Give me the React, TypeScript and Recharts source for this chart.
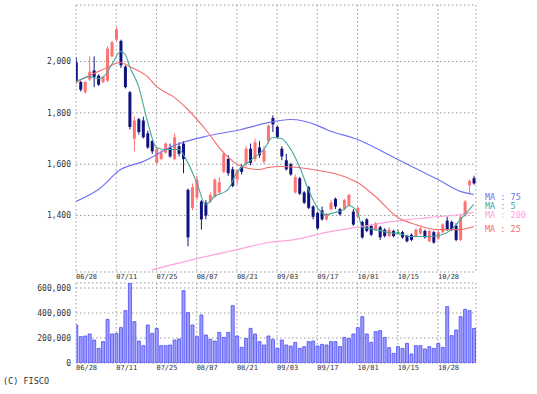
import { Bar, CartesianGrid, ComposedChart, Line, XAxis, YAxis } from 'recharts';

const DATES = ['06/28', '07/11', '07/25', '08/07', '08/21', '09/03', '09/17', '10/01', '10/15', '10/28'];
const DATE_IDX = [0, 9, 18, 27, 36, 45, 54, 63, 72, 81];

const OPEN = [
  1996, 1920, 1880, 1930, 1965, 1945, 1920, 1925, 2020, 2085,
  2080, 1980, 1880, 1700, 1775, 1770, 1720, 1690, 1605, 1620,
  1645, 1665, 1620, 1670, 1680, 1500, 1430, 1470, 1455, 1450,
  1455, 1475, 1490, 1570, 1620, 1580, 1540, 1590, 1600, 1660,
  1620, 1665, 1610, 1690, 1780, 1745, 1660, 1615, 1600, 1490,
  1545, 1490, 1510, 1435, 1410, 1420, 1385, 1425, 1465, 1425,
  1425, 1440, 1415, 1395, 1375, 1385, 1360, 1345, 1355, 1345,
  1320, 1340, 1335, 1335, 1320, 1325, 1320, 1330, 1340, 1300,
  1335, 1310, 1335, 1380, 1375, 1360, 1305, 1400, 1518, 1545,
];
const HIGH = [
  2015, 1925, 1925, 2020, 2020, 1950, 1945, 2060, 2080, 2135,
  2085, 1985, 1885, 1786, 1780, 1785, 1730, 1695, 1665, 1655,
  1685, 1680, 1720, 1685, 1690, 1505, 1525, 1555, 1460, 1460,
  1490, 1545, 1550, 1650, 1635, 1590, 1580, 1600, 1670, 1680,
  1700, 1690, 1670, 1755, 1790, 1750, 1670, 1640, 1605, 1560,
  1550, 1495, 1515, 1440, 1415, 1435, 1410, 1460, 1470, 1430,
  1465, 1485, 1425, 1435, 1380, 1390, 1365, 1375, 1360, 1350,
  1355, 1345, 1345, 1340, 1325, 1330, 1350, 1355, 1345, 1345,
  1340, 1340, 1370, 1395, 1380, 1370, 1400, 1460, 1540, 1555,
];
const LOW = [
  1914, 1883, 1875, 1925, 1900, 1905, 1915, 1920, 2015, 2080,
  1975, 1895, 1735, 1650, 1715, 1700, 1660, 1640, 1600, 1615,
  1640, 1625, 1615, 1630, 1565, 1280, 1420, 1460, 1345, 1385,
  1450, 1470, 1485, 1565, 1555, 1510, 1520, 1560, 1590, 1595,
  1610, 1625, 1600, 1680, 1725, 1700, 1615, 1575, 1555, 1485,
  1480, 1445, 1425, 1385, 1345, 1380, 1380, 1420, 1425, 1400,
  1420, 1435, 1360, 1390, 1310, 1335, 1320, 1340, 1305, 1315,
  1315, 1315, 1328, 1310, 1295, 1300, 1315, 1325, 1310, 1295,
  1290, 1305, 1330, 1340, 1340, 1300, 1300, 1395, 1482, 1520,
];
const CLOSE = [
  1922, 1890, 1920, 1960, 1940, 1910, 1940, 2050, 2075, 2125,
  1985, 1900, 1745, 1770, 1725, 1705, 1665, 1650, 1660, 1645,
  1680, 1630, 1705, 1640, 1620, 1315, 1510, 1540, 1385, 1400,
  1480, 1540, 1530, 1640, 1565, 1515, 1575, 1570, 1660, 1605,
  1685, 1635, 1655, 1750, 1755, 1705, 1630, 1580, 1560, 1550,
  1485, 1450, 1430, 1395, 1350, 1385, 1405, 1450, 1435, 1405,
  1460, 1480, 1365, 1430, 1315, 1340, 1325, 1370, 1315, 1320,
  1345, 1320, 1335, 1315, 1300, 1305, 1345, 1350, 1315, 1340,
  1295, 1335, 1365, 1345, 1345, 1305, 1395, 1455, 1535, 1525,
];
const VOLUME = [
  304000, 211000, 216000, 232000, 184000, 117000, 171000, 349000, 232000, 237000,
  283000, 419000, 637000, 331000, 176000, 139000, 304000, 237000, 277000, 139000,
  139000, 144000, 184000, 192000, 579000, 403000, 304000, 211000, 384000, 224000,
  189000, 176000, 245000, 205000, 245000, 459000, 216000, 125000, 197000, 277000,
  232000, 171000, 144000, 216000, 189000, 117000, 184000, 144000, 136000, 165000,
  117000, 131000, 171000, 176000, 136000, 149000, 144000, 171000, 171000, 131000,
  205000, 197000, 232000, 283000, 371000, 232000, 165000, 251000, 259000, 205000,
  123000, 77000, 131000, 117000, 157000, 72000, 139000, 139000, 112000, 131000,
  117000, 157000, 125000, 451000, 219000, 264000, 371000, 429000, 419000, 277000,
];

// moving averages: [index, value]
const MA5 = [
  [0, 1922], [1, 1930], [3, 1941], [5, 1934], [6, 1938], [8, 1988], [10, 2039], [11, 2027],
  [12, 1980], [14, 1903], [16, 1766], [18, 1665], [20, 1657], [23, 1657], [25, 1606], [27, 1529],
  [29, 1443], [31, 1474], [34, 1501], [36, 1568], [39, 1614], [42, 1657], [44, 1704], [46, 1700],
  [47, 1684], [50, 1591], [52, 1501], [54, 1431], [56, 1404], [58, 1412], [60, 1423], [61, 1439],
  [63, 1412], [64, 1357], [67, 1345], [70, 1334], [73, 1326], [75, 1318], [79, 1318], [82, 1326],
  [84, 1345], [86, 1384], [89, 1443],
];
const MA25 = [
  [0, 1918], [3, 1945], [6, 1969], [10, 1996], [12, 1980], [16, 1941], [18, 1903], [22, 1860],
  [25, 1813], [29, 1735], [33, 1645], [37, 1591], [41, 1579], [43, 1587], [46, 1591], [53, 1579],
  [63, 1529], [67, 1474], [72, 1392], [76, 1365], [81, 1345], [86, 1345], [89, 1357],
];
const MA75 = [
  [0, 1455], [5, 1501], [10, 1579], [15, 1610], [22, 1673], [29, 1708], [37, 1735], [43, 1762],
  [48, 1774], [54, 1751], [56, 1735], [63, 1696], [72, 1618], [81, 1540], [86, 1494], [89, 1482],
];
const MA200 = [
  [17, 1188], [28, 1236], [37, 1271], [43, 1295], [49, 1306], [56, 1334], [64, 1357], [71, 1377],
  [79, 1392], [86, 1404], [89, 1412],
];

const PRICE_TICKS = [1400, 1600, 1800, 2000];
const VOLUME_TICKS = [0, 200000, 400000, 600000];

const RED = '#ff7272';
const NAVY = '#12127e';
const DOJI = '#2f8f2f';
const TEAL = '#45a89c';
const SALMON = '#f46c6c';
const BLUE = '#7272f4';
const PINK = '#ffa2dc';
const GRID = '#9a9a9a';
const TEXT = '#333';
const MONO = "'DejaVu Sans Mono', monospace";

const candles = OPEN.map((o, i) => ({
  x: i,
  range: [LOW[i], HIGH[i]],
  open: o,
  high: HIGH[i],
  low: LOW[i],
  close: CLOSE[i],
}));
const volumes = VOLUME.map((v, i) => ({ x: i, vol: v }));
const toRows = (pts: number[][]) => pts.map(([x, v]) => ({ x, v }));

function Candle(props: any) {
  const { x, y, width, height, payload } = props;
  const top = Math.min(y, y + height);
  const bottom = Math.max(y, y + height);
  const { open, close, high, low } = payload;
  const ppu = (bottom - top) / (high - low);
  const yo = top + (high - open) * ppu;
  const yc = top + (high - close) * ppu;
  const color = close > open ? RED : close < open ? NAVY : DOJI;
  const cx = x + width / 2;
  return (
    <g>
      <line x1={cx} x2={cx} y1={top} y2={bottom} stroke={color} strokeWidth={1} />
      <rect x={x} y={Math.min(yo, yc)} width={width} height={Math.max(Math.abs(yo - yc), 1)} fill={color} />
    </g>
  );
}

const dateFmt = (v: number) => DATES[DATE_IDX.indexOf(v)] ?? '';
const numFmt = (v: number) => v.toLocaleString('en-US');

const legend = [
  { text: 'MA : 75', color: BLUE, top: 192 },
  { text: 'MA : 5', color: TEAL, top: 201 },
  { text: 'MA : 200', color: PINK, top: 210 },
  { text: 'MA : 25', color: SALMON, top: 224 },
];

const dateTick = { fontSize: 7, fontFamily: MONO, fill: TEXT, textAnchor: 'start' };
const valueTick = { fontSize: 8, fontFamily: MONO, fill: TEXT };

export default function App() {
  return (
    <div style={{ position: 'absolute', left: 0, top: 0, width: 537, height: 394, background: '#fff' }}>
      <div style={{ position: 'absolute', left: 0, top: 0 }}>
        <ComposedChart width={537} height={285} data={candles} margin={{ top: 5, right: 61, bottom: 0, left: 0 }}>
          <CartesianGrid stroke={GRID} strokeDasharray="1.5 2.5" />
          <XAxis
            dataKey="x"
            type="number"
            domain={[0, 89.5]}
            allowDataOverflow
            ticks={DATE_IDX}
            interval={0}
            tickFormatter={dateFmt}
            tickLine={false}
            axisLine={false}
            tickSize={0}
            tickMargin={2}
            height={13}
            tick={dateTick}
          />
          <YAxis
            type="number"
            domain={[1180, 2220]}
            allowDataOverflow
            ticks={PRICE_TICKS}
            interval={0}
            tickFormatter={numFmt}
            tickLine={false}
            axisLine={false}
            tickSize={0}
            tickMargin={5}
            width={76}
            tick={valueTick}
          />
          <Line data={toRows(MA200)} dataKey="v" type="monotone" stroke={PINK} strokeWidth={1.2} dot={false} isAnimationActive={false} />
          <Line data={toRows(MA75)} dataKey="v" type="monotone" stroke={BLUE} strokeWidth={1.2} dot={false} isAnimationActive={false} />
          <Line data={toRows(MA25)} dataKey="v" type="monotone" stroke={SALMON} strokeWidth={1.1} dot={false} isAnimationActive={false} />
          <Bar dataKey="range" barSize={3} shape={<Candle />} isAnimationActive={false} />
          <Line data={toRows(MA5)} dataKey="v" type="monotone" stroke={TEAL} strokeWidth={1.1} dot={false} isAnimationActive={false} />
        </ComposedChart>
      </div>
      <div style={{ position: 'absolute', left: 0, top: 280 }}>
        <ComposedChart width={537} height={95} data={volumes} margin={{ top: 3, right: 61, bottom: 0, left: 0 }}>
          <CartesianGrid stroke={GRID} strokeDasharray="1.5 2.5" />
          <XAxis
            dataKey="x"
            type="number"
            domain={[0, 89.5]}
            allowDataOverflow
            ticks={DATE_IDX}
            interval={0}
            tickFormatter={dateFmt}
            tickLine={false}
            axisLine={false}
            tickSize={0}
            tickMargin={2}
            height={12}
            tick={dateTick}
          />
          <YAxis
            type="number"
            domain={[0, 640000]}
            allowDataOverflow
            ticks={VOLUME_TICKS}
            interval={0}
            tickFormatter={numFmt}
            tickLine={false}
            axisLine={false}
            tickSize={0}
            tickMargin={5}
            width={76}
            tick={valueTick}
          />
          <Bar dataKey="vol" barSize={3} fill="#9c9cff" stroke="#4a4af6" strokeWidth={0.8} isAnimationActive={false} />
        </ComposedChart>
      </div>
      {legend.map((l) => (
        <div
          key={l.text}
          style={{
            position: 'absolute',
            left: 485,
            top: l.top,
            fontFamily: MONO,
            fontSize: 8.5,
            lineHeight: '10px',
            color: l.color,
            whiteSpace: 'pre',
          }}
        >
          {l.text}
        </div>
      ))}
      <div
        style={{
          position: 'absolute',
          left: 3,
          top: 376,
          fontFamily: MONO,
          fontSize: 8.5,
          lineHeight: '10px',
          color: TEXT,
          whiteSpace: 'pre',
        }}
      >
        (C) FISCO
      </div>
    </div>
  );
}
